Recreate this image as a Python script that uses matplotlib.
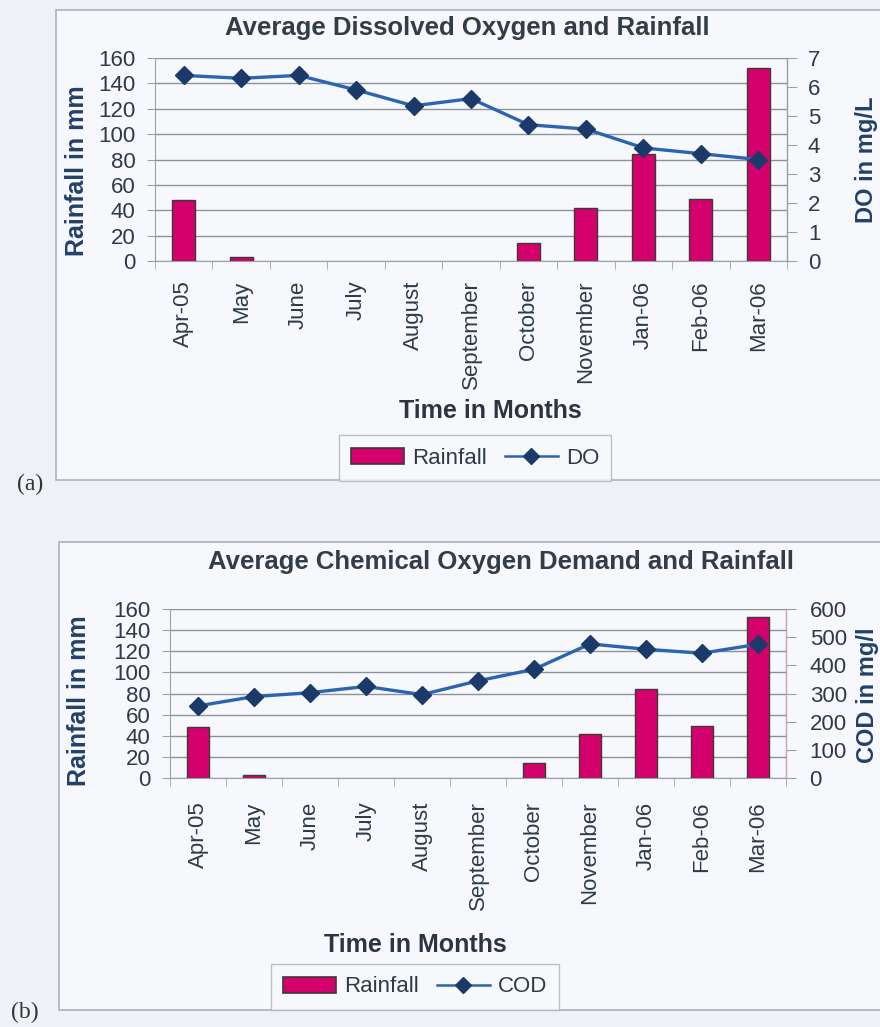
import matplotlib
matplotlib.use("Agg")
import matplotlib.pyplot as plt
import matplotlib.patches as patches
from matplotlib.lines import Line2D
import numpy as np

plt.rcParams['font.family'] = ['Liberation Sans', 'DejaVu Sans']

# data
months = ['Apr-05', 'May', 'June', 'July', 'August', 'September',
          'October', 'November', 'Jan-06', 'Feb-06', 'Mar-06']
rainfall = [48, 3, 0, 0, 0, 0, 14, 42, 84, 49, 152]
do_values = [6.4, 6.3, 6.4, 5.9, 5.35, 5.6, 4.7, 4.55, 3.9, 3.7, 3.5]
cod_values = [256, 289, 303, 325, 296, 345, 386, 476, 457, 443, 475]
rain_ticks = list(range(0, 161, 20))
do_ticks = list(range(0, 8))
cod_ticks = list(range(0, 601, 100))

W, H = 880, 1027
bar_color = '#d4006b'
line_color = '#2c64b0'
marker_color = '#1b3a6a'
text_color = '#2e3a48'
label_color = '#22406a'
page_color = '#eef1f6'
panel_color = '#f6f8fc'
border_color = '#aab2ba'

fig = plt.figure(figsize=(W / 100, H / 100), dpi=100, facecolor=page_color)


def frac(x, y):
    return x / W, 1 - y / H


def rect(l, t, r, b):
    return [l / W, 1 - b / H, (r - l) / W, (b - t) / H]


def draw_panel(box, axrect, title, title_xy, right_vals, right_ticks, right_label,
               right_label_xy, left_label_xy, xlabel_xy, legend_xy, line_name,
               tag, tag_xy, xpad, rpad, right_spine):
    # panel frame, kept behind the axes
    l, t, r, b = box
    fig.patches.append(patches.Rectangle((l / W, 1 - b / H), (r - l) / W, (b - t) / H,
                                         transform=fig.transFigure, facecolor=panel_color,
                                         edgecolor=border_color, linewidth=1.2, zorder=-5))

    ax = fig.add_axes(rect(*axrect))
    ax.set_facecolor('none')
    x = np.arange(len(months))
    edges = ['none' if v == 0 else '#3a3a3a' for v in rainfall]
    ax.bar(x, rainfall, width=0.4, color=bar_color, edgecolor=edges, linewidth=1.0, zorder=2)
    ax.set_xlim(-0.5, len(months) - 0.5)
    ax.set_ylim(0, 160)
    ax.set_yticks(rain_ticks)
    ax.grid(axis='y', color='#8c9298', linewidth=1.0)
    ax.set_axisbelow(True)
    ax.set_xticks(x)
    ax.set_xticklabels(months, rotation=90, fontsize=16, color=text_color)
    ax.set_xticks(np.arange(-0.5, len(months), 1), minor=True)
    ax.tick_params(axis='x', which='major', length=0, pad=xpad)
    ax.tick_params(axis='x', which='minor', length=6, color='#9aa0a8', direction='out')
    ax.tick_params(axis='y', length=6, color='#9aa0a8', labelsize=16,
                   labelcolor=text_color, pad=8)
    ax.spines['top'].set_visible(False)
    for s in ['left', 'bottom']:
        ax.spines[s].set_color('#9aa0a8')

    ax2 = ax.twinx()
    ax2.plot(x, right_vals, color=line_color, linewidth=2.4, marker='D', markersize=9,
             markerfacecolor=marker_color, markeredgecolor=marker_color, zorder=3)
    ax2.set_ylim(right_ticks[0], right_ticks[-1])
    ax2.set_yticks(right_ticks)
    ax2.tick_params(axis='y', length=7, color='#9aa0a8', labelsize=16,
                    labelcolor=text_color, pad=rpad)
    ax2.spines['top'].set_visible(False)
    ax2.spines['left'].set_visible(False)
    ax2.spines['bottom'].set_visible(False)
    ax2.spines['right'].set_color(right_spine)

    fig.text(*frac(*title_xy), title, ha='center', va='center', fontsize=18.5,
             fontweight='bold', color='#333c47')
    fig.text(*frac(*left_label_xy), 'Rainfall in mm', rotation=90, ha='center', va='center',
             fontsize=18, fontweight='bold', color=label_color)
    fig.text(*frac(*right_label_xy), right_label, rotation=90, ha='center', va='center',
             fontsize=17, fontweight='bold', color=label_color)
    fig.text(*frac(*xlabel_xy), 'Time in Months', ha='center', va='center',
             fontsize=18, fontweight='bold', color='#2b3440')
    fig.text(*frac(*tag_xy), tag, ha='center', va='center', fontsize=17,
             family=['Liberation Serif', 'DejaVu Serif'], color='#333')

    handles = [patches.Patch(facecolor=bar_color, edgecolor='#3a3a3a', linewidth=1.2),
               Line2D([0], [0], color=line_color, linewidth=1.8, marker='D', markersize=8,
                      markerfacecolor=marker_color, markeredgecolor=marker_color)]
    leg = fig.legend(handles, ['Rainfall', line_name], loc='center',
                     bbox_to_anchor=frac(*legend_xy), ncol=2, fontsize=16,
                     frameon=True, fancybox=False, edgecolor=border_color,
                     facecolor=panel_color, handlelength=2.4, handleheight=0.7,
                     handletextpad=0.35, columnspacing=0.8, borderpad=0.55, numpoints=1)
    leg.get_frame().set_linewidth(1.0)
    for t in leg.get_texts():
        t.set_color(text_color)
    return ax, ax2


draw_panel(box=(56, 10, 890, 480), axrect=(155, 58, 787, 261),
           title='Average Dissolved Oxygen and Rainfall', title_xy=(467, 28),
           right_vals=do_values, right_ticks=do_ticks, right_label='DO in mg/L',
           right_label_xy=(866, 160), left_label_xy=(77, 171), xlabel_xy=(490, 411),
           legend_xy=(475, 458), line_name='DO', tag='(a)', tag_xy=(30, 484),
           xpad=14, rpad=8, right_spine='#9aa0a8')

draw_panel(box=(59, 542, 890, 1010), axrect=(170, 609, 786, 778),
           title='Average Chemical Oxygen Demand and Rainfall', title_xy=(501, 562),
           right_vals=cod_values, right_ticks=cod_ticks, right_label='COD in mg/l',
           right_label_xy=(867, 695), left_label_xy=(79, 701), xlabel_xy=(415, 945),
           legend_xy=(415, 987), line_name='COD', tag='(b)', tag_xy=(25, 1012),
           xpad=17, rpad=10, right_spine='#d8a0b0')

fig.savefig('out.png', dpi=100, facecolor=page_color)
